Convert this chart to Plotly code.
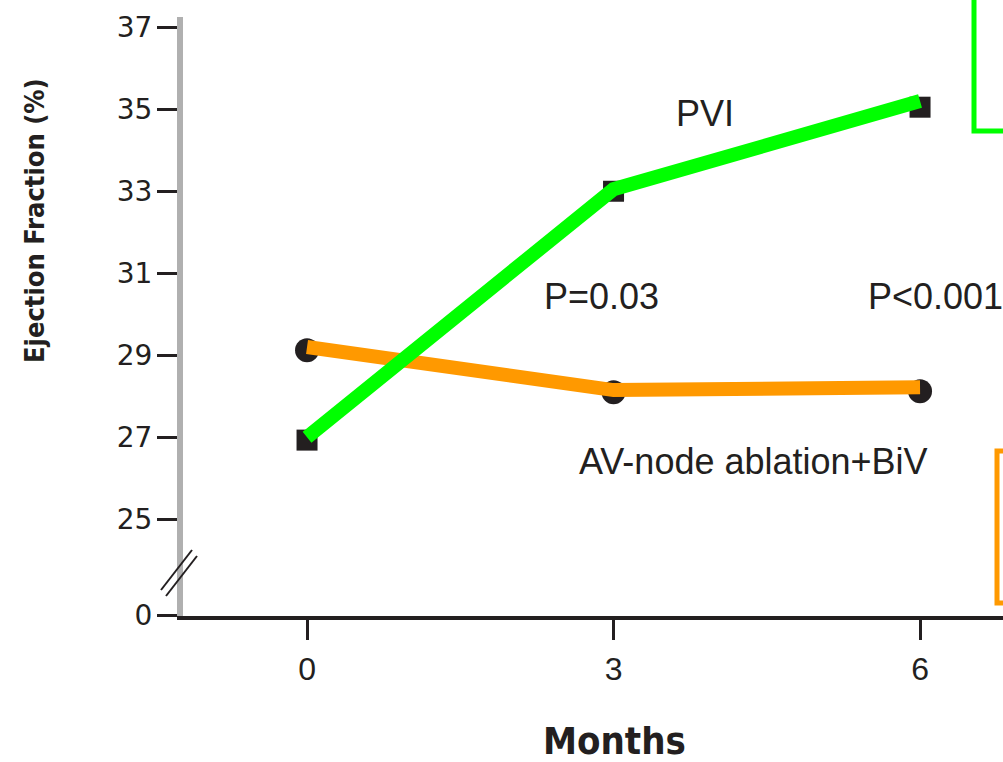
import plotly.graph_objects as go

# ---- data ----
months = [0, 3, 6]
pvi_points = [26.93, 33.0, 35.05]
pvi_line = [27.0, 33.05, 35.2]
av_points = [29.12, 28.1, 28.12]
av_line = [29.2, 28.15, 28.22]

y_tickvals = [22.65, 25, 27, 29, 31, 33, 35, 37]
y_ticktext = ["0", "25", "27", "29", "31", "33", "35", "37"]
x_tickvals = [0, 3, 6]
x_ticktext = ["0", "3", "6"]

# ---- layout geometry (pixels) ----
W, H = 1003, 762
L, R, T, B = 183, 0, 17, 146
PW, PH = W - L - R, H - T - B

def px(x):
    return (x - L) / PW

def py(y):
    return (H - B - y) / PH

INK = "#231f20"
GREEN = "#00ff00"
ORANGE = "#ff9900"
TXT = "Liberation Sans, Arial, sans-serif"
NARROW = "DejaVu Sans Condensed, Liberation Sans Narrow, Arial Narrow, sans-serif"
WIDE = "DejaVu Sans, Verdana, sans-serif"

fig = go.Figure()
fig.add_trace(go.Scatter(x=months, y=av_points, mode="markers",
                         marker=dict(symbol="circle", size=24, color=INK),
                         showlegend=False, hoverinfo="skip", cliponaxis=False))
fig.add_trace(go.Scatter(x=months, y=pvi_points, mode="markers",
                         marker=dict(symbol="square", size=21, color=INK),
                         showlegend=False, hoverinfo="skip", cliponaxis=False))
fig.add_trace(go.Scatter(x=months, y=av_line, mode="lines", name="AV-node ablation+BiV",
                         line=dict(color=ORANGE, width=14), showlegend=False, cliponaxis=False))
fig.add_trace(go.Scatter(x=months, y=pvi_line, mode="lines", name="PVI",
                         line=dict(color=GREEN, width=14), showlegend=False, cliponaxis=False))

annotations = [
    dict(x=3.895, y=34.9, text="PVI"),
    dict(x=2.887, y=30.44, text="P=0.03"),
    dict(x=6.147, y=30.44, text="P<0.001"),
    dict(x=4.365, y=26.42, text="AV-node ablation+BiV"),
]
for a in annotations:
    fig.add_annotation(x=a["x"], y=a["y"], xref="x", yref="y", text=a["text"],
                       xanchor="center", yanchor="middle",
                       showarrow=False, font=dict(family=TXT, size=36, color=INK))

# axis titles
fig.add_annotation(x=px(614), y=py(741), xref="paper", yref="paper", text="<b>Months</b>",
                   xanchor="center", yanchor="middle",
                   showarrow=False, font=dict(family=NARROW, size=38, color=INK))
fig.add_annotation(x=px(35), y=py(221), xref="paper", yref="paper",
                   text="<b>Ejection Fraction (%)</b>", textangle=-90,
                   xanchor="center", yanchor="middle",
                   showarrow=False, font=dict(family=NARROW, size=27, color=INK))

shapes = [
    # axis break marks
    dict(type="line", xref="paper", yref="paper", x0=px(161), y0=py(590), x1=px(192), y1=py(550),
         line=dict(color=INK, width=2)),
    dict(type="line", xref="paper", yref="paper", x0=px(166), y0=py(596), x1=px(197), y1=py(556),
         line=dict(color=INK, width=2)),
    # partial boxes at right edge
    dict(type="rect", xref="paper", yref="paper", x0=px(974), y0=py(131), x1=px(1100), y1=py(-50),
         line=dict(color=GREEN, width=5)),
    dict(type="rect", xref="paper", yref="paper", x0=px(997), y0=py(603), x1=px(1100), y1=py(451),
         line=dict(color=ORANGE, width=5)),
]
fig.update_layout(shapes=shapes)

fig.update_layout(
    width=W, height=H,
    margin=dict(l=L, r=R, t=T, b=B, pad=0),
    plot_bgcolor="white", paper_bgcolor="white",
    xaxis=dict(range=[-1.214, 6.812], tickvals=x_tickvals, ticktext=x_ticktext,
               showgrid=False, zeroline=False, showline=True, linecolor=INK, linewidth=4,
               ticks="outside", ticklen=20, tickwidth=3, tickcolor=INK,
               tickfont=dict(family=TXT, size=32, color=INK), ticklabelstandoff=2),
    yaxis=dict(range=[22.64, 37.25], tickvals=y_tickvals, ticktext=y_ticktext,
               showgrid=False, zeroline=False, showline=True, linecolor="#b0b0b0", linewidth=6,
               ticks="outside", ticklen=20, tickwidth=3, tickcolor=INK,
               tickfont=dict(family=WIDE, size=28, color=INK), ticklabelstandoff=-1),
)

fig.write_html("out.html")
